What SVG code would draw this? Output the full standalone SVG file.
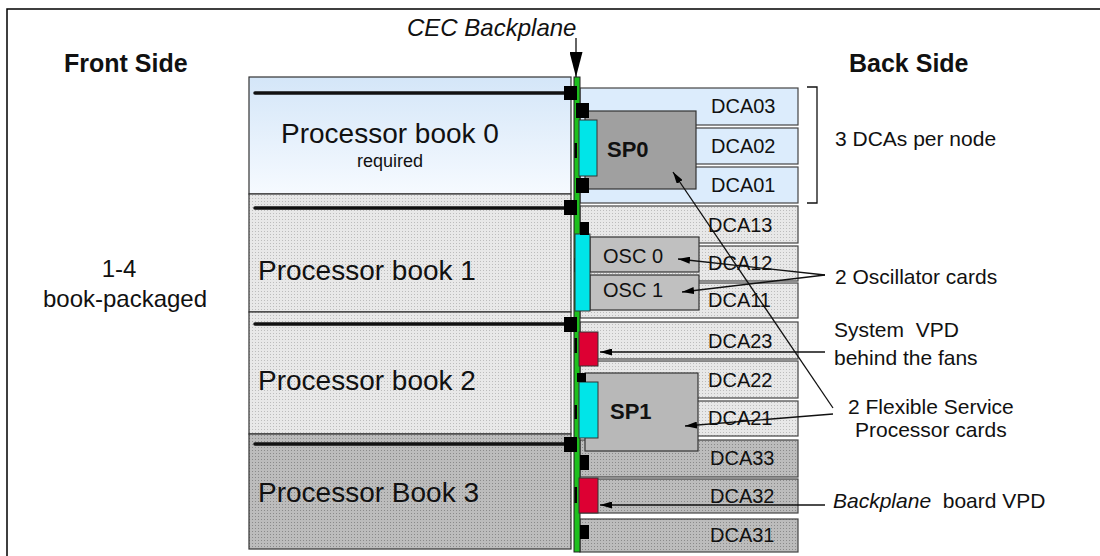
<svg xmlns="http://www.w3.org/2000/svg" width="1100" height="556" viewBox="0 0 1100 556">
<style>
text{font-family:"Liberation Sans",Arial,sans-serif;fill:#111;white-space:pre}
.book{stroke:#333;stroke-width:1.2}
.dca{stroke:#444;stroke-width:1.2}
.dl{font-size:20px}
.bt{font-size:28px}
.rl{font-size:21px}
.hd{font-size:25px;font-weight:bold}
.bus{stroke:#111;stroke-width:3.5;stroke-linecap:round}
.blk{fill:#000}
.cyan{fill:#00e5e8;stroke:#333;stroke-width:1}
.red{fill:#dd0033;stroke:#333;stroke-width:1}
.con{stroke:#111;stroke-width:1.3;fill:none}
</style>
<defs>
<linearGradient id="blueG" x1="0" y1="0" x2="0" y2="1">
<stop offset="0" stop-color="#d4e6f8"/>
<stop offset="1" stop-color="#f6faff"/>
</linearGradient>
<pattern id="dotL" width="3" height="3" patternUnits="userSpaceOnUse">
<rect width="3" height="3" fill="#e8e8e8"/><rect width="1" height="1" fill="#bcbcbc"/>
</pattern>
<pattern id="dotD" width="3" height="3" patternUnits="userSpaceOnUse">
<rect width="3" height="3" fill="#bcbcbc"/><rect width="1" height="1" fill="#8a8a8a"/>
</pattern>
<marker id="ah" viewBox="0 0 12 7" refX="12" refY="3.5" markerWidth="12" markerHeight="7" markerUnits="userSpaceOnUse" orient="auto">
<path d="M0,0L12,3.5L0,7z" fill="#000"/>
</marker>
<marker id="ahBig" viewBox="0 0 25 13" refX="25" refY="6.5" markerWidth="25" markerHeight="13" markerUnits="userSpaceOnUse" orient="auto">
<path d="M0,0L25,6.5L0,13z" fill="#000"/>
</marker>
</defs>

<g id="frame"><path d="M7,560V9H1100" fill="none" stroke="#000" stroke-width="1.5"/></g>

<g id="titles">
<text class="hd" x="64" y="72">Front Side</text>
<text class="hd" x="849" y="72">Back Side</text>
<text x="407" y="36" font-size="24" font-style="italic">CEC Backplane</text>
<text x="119" y="277" font-size="24" text-anchor="middle">1-4</text>
<text x="125" y="307" font-size="24" text-anchor="middle">book-packaged</text>
</g>

<g id="book0">
<rect class="book" x="249" y="77" width="322" height="117" fill="url(#blueG)"/>
<line class="bus" x1="255" y1="93" x2="566" y2="93"/>
<text class="bt" x="281" y="143">Processor book 0</text>
<text x="357" y="167" font-size="18">required</text>
</g>
<g id="book1">
<rect class="book" x="249" y="194" width="322" height="118" fill="url(#dotL)"/>
<line class="bus" x1="255" y1="208" x2="566" y2="208"/>
<text class="bt" x="258" y="280">Processor book 1</text>
</g>
<g id="book2">
<rect class="book" x="249" y="312" width="322" height="122" fill="url(#dotL)"/>
<line class="bus" x1="255" y1="324" x2="566" y2="324"/>
<text class="bt" x="258" y="390">Processor book 2</text>
</g>
<g id="book3">
<rect class="book" x="249" y="434" width="322" height="115" fill="url(#dotD)"/>
<line class="bus" x1="255" y1="444" x2="566" y2="444"/>
<text class="bt" x="258" y="502">Processor Book 3</text>
</g>

<g id="dca0">
<rect class="dca" x="580" y="88" width="218" height="37" fill="#dcecfc"/>
<rect class="dca" x="580" y="128" width="218" height="36" fill="#dcecfc"/>
<rect class="dca" x="580" y="167" width="218" height="36" fill="#dcecfc"/>
<text class="dl" x="711" y="113">DCA03</text>
<text class="dl" x="711" y="153">DCA02</text>
<text class="dl" x="711" y="192">DCA01</text>
</g>
<g id="dca1">
<rect class="dca" x="580" y="206" width="218" height="37" fill="url(#dotL)"/>
<rect class="dca" x="580" y="246" width="218" height="35" fill="url(#dotL)"/>
<rect class="dca" x="580" y="283" width="218" height="35" fill="url(#dotL)"/>
<text class="dl" x="708" y="232">DCA13</text>
<text class="dl" x="708" y="270">DCA12</text>
<text class="dl" x="708" y="307">DCA11</text>
</g>
<g id="dca2">
<rect class="dca" x="580" y="322" width="218" height="37" fill="url(#dotL)"/>
<rect class="dca" x="580" y="361" width="218" height="37" fill="url(#dotL)"/>
<rect class="dca" x="580" y="401" width="218" height="35" fill="url(#dotL)"/>
<text class="dl" x="708" y="348">DCA23</text>
<text class="dl" x="708" y="387">DCA22</text>
<text class="dl" x="708" y="425">DCA21</text>
</g>
<g id="dca3">
<rect class="dca" x="580" y="440" width="218" height="37" fill="url(#dotD)"/>
<rect class="dca" x="580" y="479" width="218" height="34" fill="url(#dotD)"/>
<rect class="dca" x="580" y="519" width="218" height="33" fill="url(#dotD)"/>
<text class="dl" x="710" y="465">DCA33</text>
<text class="dl" x="710" y="503">DCA32</text>
<text class="dl" x="710" y="542">DCA31</text>
</g>

<g id="backplane">
<rect x="574" y="77" width="6" height="475" fill="#1ec01e" stroke="#222" stroke-width="1"/>
<rect class="blk" x="574.5" y="143" width="2.5" height="15"/>
<rect class="blk" x="574.5" y="258" width="2.5" height="14"/>
<rect class="blk" x="574.5" y="338" width="2.5" height="15"/>
<rect class="blk" x="574.5" y="405" width="2.5" height="14"/>
<rect class="blk" x="574.5" y="487" width="2.5" height="16"/>
</g>

<g id="sp0">
<rect x="585" y="111" width="111" height="78" fill="#a0a0a0" stroke="#333" stroke-width="1.2"/>
<rect class="cyan" x="579" y="120" width="18" height="56"/>
<text x="607" y="157" font-size="22" font-weight="bold">SP0</text>
</g>
<g id="osc0">
<rect x="590" y="237" width="109" height="35" fill="#c0c0c0" stroke="#333" stroke-width="1.2"/>
<text class="dl" x="603" y="263">OSC 0</text>
</g>
<g id="osc1">
<rect x="590" y="275" width="109" height="35" fill="#c0c0c0" stroke="#333" stroke-width="1.2"/>
<text class="dl" x="603" y="297">OSC 1</text>
</g>
<g id="osc-slot"><rect class="cyan" x="575" y="234" width="15" height="77"/></g>
<g id="vpd-system"><rect class="red" x="579" y="332" width="19" height="34"/></g>
<g id="sp1">
<rect x="585" y="373" width="113" height="78" fill="#b8b8b8" stroke="#333" stroke-width="1.2"/>
<rect class="cyan" x="579" y="382" width="19" height="56"/>
<text x="610" y="419" font-size="22" font-weight="bold">SP1</text>
</g>
<g id="vpd-backplane"><rect class="red" x="579" y="478" width="19" height="35"/></g>

<g id="connector-blocks">
<rect class="blk" x="564" y="86" width="13" height="14"/>
<rect class="blk" x="564" y="200" width="13" height="15"/>
<rect class="blk" x="564" y="317" width="13" height="15"/>
<rect class="blk" x="564" y="437" width="13" height="15"/>
<rect class="blk" x="576" y="103" width="13" height="15"/>
<rect class="blk" x="576" y="178" width="13" height="15"/>
<rect class="blk" x="580" y="222" width="9" height="13"/>
<rect class="blk" x="577" y="373" width="9" height="9"/>
<rect class="blk" x="580" y="455" width="9" height="15"/>
<rect class="blk" x="580" y="525" width="9" height="14"/>
</g>

<g id="connectors">
<line class="con" x1="576" y1="38" x2="576" y2="77" marker-end="url(#ahBig)"/>
<line class="con" x1="825" y1="275" x2="678" y2="259" marker-end="url(#ah)"/>
<line class="con" x1="825" y1="275" x2="682" y2="292" marker-end="url(#ah)"/>
<line class="con" x1="833" y1="408" x2="673" y2="172" marker-end="url(#ah)"/>
<line class="con" x1="833" y1="414" x2="685" y2="426" marker-end="url(#ah)"/>
<line class="con" x1="825" y1="352" x2="600" y2="352" marker-end="url(#ah)"/>
<line class="con" x1="825" y1="505" x2="600" y2="505" marker-end="url(#ah)"/>
<path class="con" d="M807,87H817V203H807"/>
</g>

<g id="labels">
<text class="rl" x="835" y="146">3 DCAs per node</text>
<text class="rl" x="835" y="284">2 Oscillator cards</text>
<text class="rl" x="834" y="337">System  VPD</text>
<text class="rl" x="834" y="365">behind the fans</text>
<text class="rl" x="848" y="414">2 Flexible Service</text>
<text class="rl" x="855" y="437">Processor cards</text>
<text class="rl" x="833" y="508"><tspan font-style="italic">Backplane</tspan>  board VPD</text>
</g>
</svg>
